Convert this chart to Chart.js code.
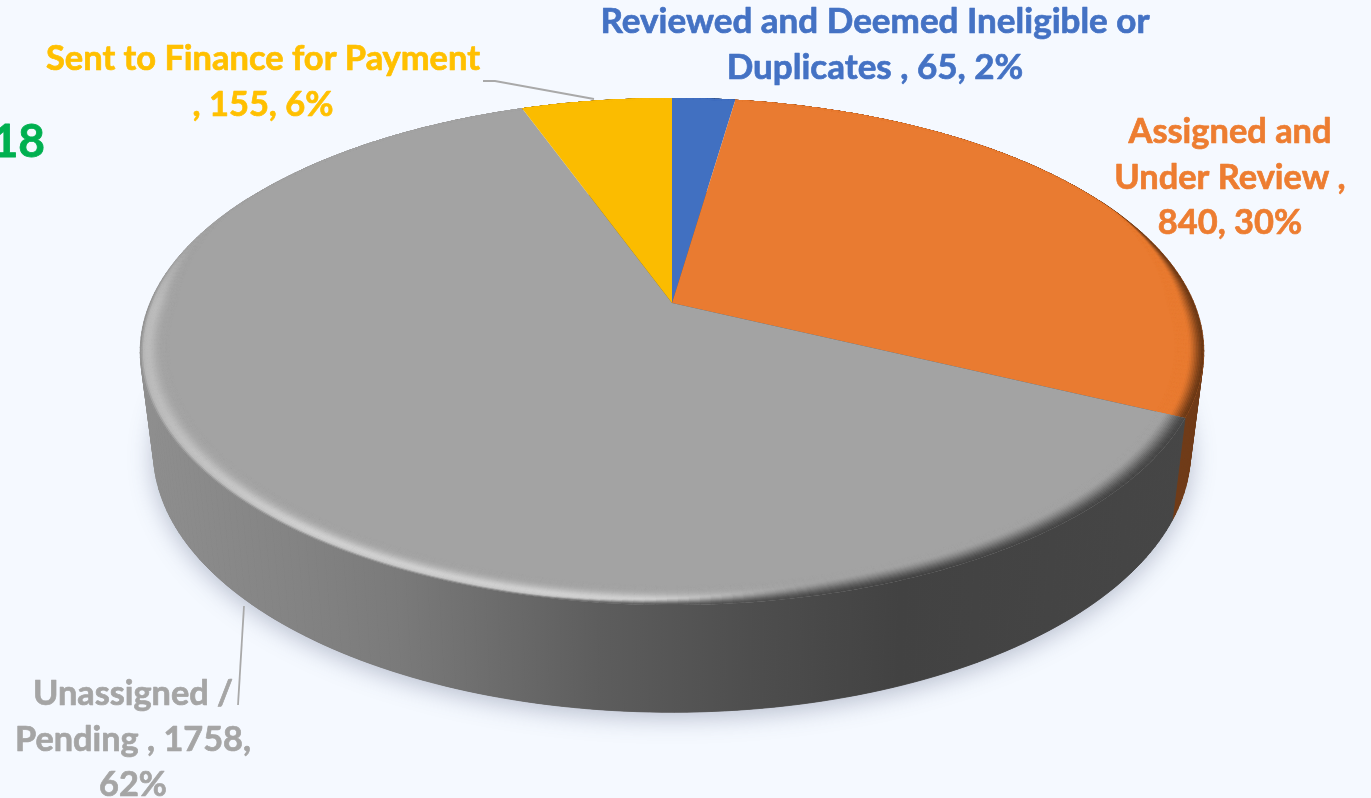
<!DOCTYPE html>
<html><head><meta charset="utf-8">
<style>html,body{margin:0;padding:0;background:#f5f9ff;overflow:hidden}canvas{display:block}</style>
<script src="https://cdn.jsdelivr.net/npm/chart.js@4/dist/chart.umd.min.js"></script>
</head><body><canvas id="c" width="1371" height="798"></canvas>
<script>
const categories=["Reviewed and Deemed Ineligible or Duplicates","Assigned and Under Review","Unassigned / Pending","Sent to Finance for Payment"];
const values=[65,840,1758,155];
const colors=["#4170c1","#e97b31","#a3a3a3","#fbbc00"];
const textColors=["#4472c4","#ed7d31","#a5a5a5","#ffc000"];
const labelLines=[["Reviewed and Deemed Ineligible or","Duplicates , 65, 2%"],["Assigned and","Under Review ,","840, 30%"],["Unassigned /","Pending , 1758,","62%"],["Sent to Finance for Payment",", 155, 6%"]];
const labelBoxes=[[875,22,549],[1230,132,203],[133,694,200],[263,59,434]];
const p=0.191, top3={y0:303,a:244.3,b:522}, low3={y0:402,a:251,b:509}, cx=672;
const proj=(g,u,v)=>{const w=1-p*v;return [cx+g.b*u/w,g.y0+g.a*v/w];};
const mix=(a,b,t)=>a.map((x,i)=>x+(b[i]-x)*t);
const rgb=c=>`rgb(${c.map(Math.round).join(',')})`;
const hex=h=>[1,3,5].map(i=>parseInt(h.substr(i,2),16));
const wallStops=[[140,143],[300,131],[400,122],[600,93],[750,78],[900,66],[1200,70]];
function wallGray(x){for(let i=1;i<wallStops.length;i++){if(x<=wallStops[i][0]){const s=wallStops[i-1],e=wallStops[i],t=Math.max(0,(x-s[0])/(e[0]-s[0]));return s[1]+(e[1]-s[1])*t;}}return 70;}
const ss=(a,b,x)=>{const t=Math.min(1,Math.max(0,(x-a)/(b-a)));return t*t*(3-2*t);};
const slicePath=(ctx,g,s,e,r)=>{ctx.beginPath();ctx.moveTo(...proj(g,0,0));const n=Math.ceil((e-s)/0.01);for(let i=0;i<=n;i++){const a=s+(e-s)*i/n;ctx.lineTo(...proj(g,r*Math.cos(a),r*Math.sin(a)));}ctx.closePath();};
const pie3d={id:'pie3d',beforeDatasetsDraw(chart){
  const ctx=chart.ctx,arcs=chart.getDatasetMeta(0).data;
  ctx.save();
  // shadow
  ctx.save();ctx.shadowColor='rgba(70,80,115,0.36)';ctx.shadowBlur=24;ctx.shadowOffsetY=5;ctx.fillStyle='#555';
  ctx.beginPath();for(let i=0;i<=360;i++){const a=i*Math.PI/180;const q=proj(low3,Math.cos(a),Math.sin(a));i?ctx.lineTo(...q):ctx.moveTo(...q);}ctx.closePath();ctx.fill();ctx.restore();
  // walls: one quad per short step so that the hull stays filled
  const wg=ctx.createLinearGradient(140,0,1204,0);wallStops.forEach(st=>{const c=st[1];wg.addColorStop((st[0]-140)/1064,`rgb(${c},${c},${c})`);});
  arcs.forEach((arc,i)=>{
    const s=arc.startAngle,e=arc.endAngle,n=Math.ceil((e-s)/0.02);
    const style=i===2?wg:rgb(mix(hex(colors[i]),[0,0,0],0.52));
    ctx.fillStyle=style;ctx.strokeStyle=style;ctx.lineWidth=0.8;
    for(let k=0;k<n;k++){
      const a0=s+(e-s)*k/n,a1=s+(e-s)*(k+1)/n;
      if(Math.sin(a0)<-0.45&&Math.sin(a1)<-0.45)continue;
      ctx.beginPath();
      ctx.moveTo(...proj(top3,Math.cos(a0),Math.sin(a0)));
      ctx.lineTo(...proj(top3,Math.cos(a1),Math.sin(a1)));
      ctx.lineTo(...proj(low3,Math.cos(a1),Math.sin(a1)));
      ctx.lineTo(...proj(low3,Math.cos(a0),Math.sin(a0)));
      ctx.closePath();ctx.fill();ctx.stroke();
    }
  });
  // top face with bevel
  arcs.forEach((arc,i)=>{
    const s=arc.startAngle,e=arc.endAngle,base=hex(colors[i]);
    ctx.save();slicePath(ctx,top3,s,e,1);ctx.fillStyle=colors[i];ctx.fill();ctx.clip();
    const N=18,da=Math.PI/180,segs=Math.ceil((e-s)/da);
    for(let j=0;j<N;j++){
      const t0=j/N,t1=(j+1)/N,tm=(t0+t1)/2;
      for(let k=0;k<segs;k++){
        const a0=s+(e-s)*k/segs,a1=s+(e-s)*(k+1)/segs,am=(a0+a1)/2;
        const v=Math.sin(am),wd=(v>0?0.052:Math.max(0.006,0.052+v*0.115));
        const ri0=1-wd*t0,ri1=1-wd*t1;
        const pm=proj(top3,Math.cos(am),v),x=pm[0];
        let c;
        if(i===2){
          const w=wallGray(x);
          const hl=(x<300?0.55+0.45*(x-140)/160:1)*(1-ss(640,860,x))*ss(-0.3,0.05,v);
          const darkness=ss(-0.25,0.1,v);
          const edge=mix(base,[w,w,w],darkness);
          const lit=base.map(q=>q+hl*Math.exp(-Math.pow((tm-0.28)/0.3,2))*46);
          const e1=ss(0,0.14+0.66*ss(500,900,x),tm);
          c=mix(edge,lit,e1);
        } else {
          c=mix(mix(base,[0,0,0],0.55),base,ss(0,0.6,tm));
        }
        const col=rgb(c);ctx.fillStyle=col;ctx.strokeStyle=col;ctx.lineWidth=0.8;
        ctx.beginPath();
        ctx.moveTo(...proj(top3,ri0*Math.cos(a0),ri0*Math.sin(a0)));
        ctx.lineTo(...proj(top3,ri0*Math.cos(a1),ri0*Math.sin(a1)));
        ctx.lineTo(...proj(top3,ri1*Math.cos(a1),ri1*Math.sin(a1)));
        ctx.lineTo(...proj(top3,ri1*Math.cos(a0),ri1*Math.sin(a0)));
        ctx.closePath();ctx.fill();ctx.stroke();
      }
    }
    ctx.restore();
  });
  // leader lines
  ctx.strokeStyle='#a9a9a9';ctx.lineWidth=1.8;
  ctx.beginPath();ctx.moveTo(483,81);ctx.lineTo(495,81);ctx.lineTo(594,99);ctx.stroke();
  ctx.beginPath();ctx.moveTo(244,606);ctx.lineTo(238,705);ctx.stroke();
  // labels
  ctx.font='bold 35px Lato';ctx.textAlign='center';ctx.textBaseline='middle';ctx.lineJoin='round';
  labelLines.forEach((lines,i)=>{
    const [x,y,w]=labelBoxes[i];ctx.fillStyle=textColors[i];ctx.strokeStyle=textColors[i];ctx.lineWidth=0.7;
    const sx=w/ctx.measureText(lines[0]).width;
    lines.forEach((l,k)=>{ctx.save();ctx.translate(x,y+k*45.5);ctx.scale(sx,1);ctx.fillText(l,0,0);ctx.strokeText(l,0,0);ctx.restore();});
  });
  ctx.font='bold 46px Lato';ctx.textAlign='right';ctx.fillStyle='#00b050';ctx.strokeStyle='#00b050';ctx.lineWidth=0.8;ctx.fillText('18',45,142);ctx.strokeText('18',45,142);
  ctx.restore();
  return false;
}};
new Chart(document.getElementById('c'),{type:'pie',data:{labels:categories,datasets:[{data:values,backgroundColor:colors,borderWidth:0}]},
options:{responsive:false,animation:false,rotation:0,plugins:{legend:{display:false},tooltip:{enabled:false}}},plugins:[pie3d]});
</script></body></html>
